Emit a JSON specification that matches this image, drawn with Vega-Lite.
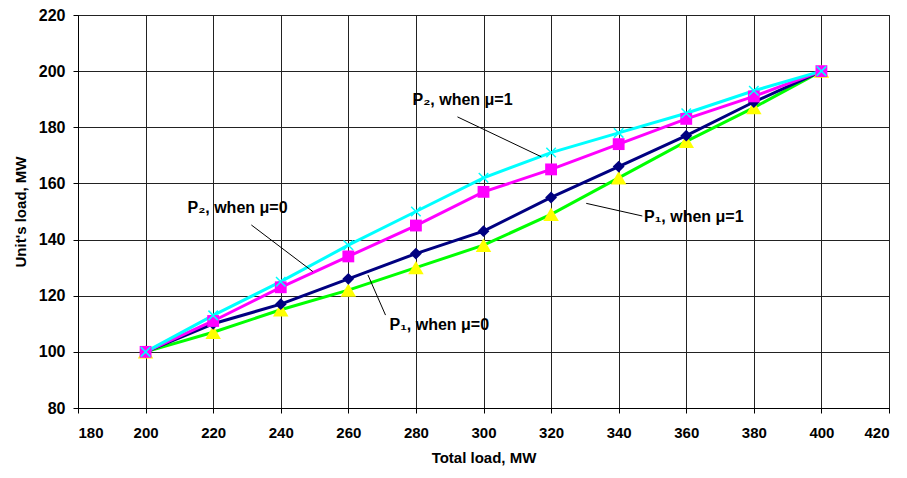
{
  "$schema": "https://vega.github.io/schema/vega-lite/v6.json",
  "width": 811,
  "height": 393,
  "autosize": {"type": "none"},
  "padding": {"left": 78, "top": 15, "right": 18, "bottom": 70},
  "background": "white",
  "config": {
    "font": "Liberation Sans",
    "view": {"stroke": "#222", "strokeWidth": 1},
    "axis": {
      "grid": true,
      "gridColor": "#222",
      "gridWidth": 1,
      "gridOpacity": 1,
      "domainColor": "#000",
      "domainWidth": 1,
      "tickColor": "#000",
      "tickSize": 5,
      "labelFont": "Liberation Sans",
      "labelFontWeight": "bold",
      "labelFontSize": 15,
      "labelColor": "#000",
      "titleFont": "Liberation Sans",
      "titleFontWeight": "bold",
      "titleFontSize": 15,
      "titleColor": "#000"
    }
  },
  "datasets": {
    "series": [
      {"s": "P1mu1", "x": 200, "y": 100}, {"s": "P1mu1", "x": 220, "y": 107}, {"s": "P1mu1", "x": 240, "y": 115}, {"s": "P1mu1", "x": 260, "y": 122}, {"s": "P1mu1", "x": 280, "y": 130}, {"s": "P1mu1", "x": 300, "y": 138}, {"s": "P1mu1", "x": 320, "y": 149}, {"s": "P1mu1", "x": 340, "y": 162}, {"s": "P1mu1", "x": 360, "y": 175}, {"s": "P1mu1", "x": 380, "y": 187}, {"s": "P1mu1", "x": 400, "y": 200},
      {"s": "P1mu0", "x": 200, "y": 100}, {"s": "P1mu0", "x": 220, "y": 110}, {"s": "P1mu0", "x": 240, "y": 117}, {"s": "P1mu0", "x": 260, "y": 126}, {"s": "P1mu0", "x": 280, "y": 135}, {"s": "P1mu0", "x": 300, "y": 143}, {"s": "P1mu0", "x": 320, "y": 155}, {"s": "P1mu0", "x": 340, "y": 166}, {"s": "P1mu0", "x": 360, "y": 177}, {"s": "P1mu0", "x": 380, "y": 189}, {"s": "P1mu0", "x": 400, "y": 200},
      {"s": "P2mu0", "x": 200, "y": 100}, {"s": "P2mu0", "x": 220, "y": 111}, {"s": "P2mu0", "x": 240, "y": 123}, {"s": "P2mu0", "x": 260, "y": 134}, {"s": "P2mu0", "x": 280, "y": 145}, {"s": "P2mu0", "x": 300, "y": 157}, {"s": "P2mu0", "x": 320, "y": 165}, {"s": "P2mu0", "x": 340, "y": 174}, {"s": "P2mu0", "x": 360, "y": 183}, {"s": "P2mu0", "x": 380, "y": 191}, {"s": "P2mu0", "x": 400, "y": 200},
      {"s": "P2mu1", "x": 200, "y": 100}, {"s": "P2mu1", "x": 220, "y": 113}, {"s": "P2mu1", "x": 240, "y": 125}, {"s": "P2mu1", "x": 260, "y": 138}, {"s": "P2mu1", "x": 280, "y": 150}, {"s": "P2mu1", "x": 300, "y": 162}, {"s": "P2mu1", "x": 320, "y": 171}, {"s": "P2mu1", "x": 340, "y": 178}, {"s": "P2mu1", "x": 360, "y": 185}, {"s": "P2mu1", "x": 380, "y": 193}, {"s": "P2mu1", "x": 400, "y": 200}
    ],
    "leaders": [
      {"x": 292.3, "y": 183.7, "x2": 317.1, "y2": 169.5},
      {"x": 231.3, "y": 145.2, "x2": 249.5, "y2": 128.6},
      {"x": 265.8, "y": 127.4, "x2": 271.0, "y2": 113.1},
      {"x": 330.4, "y": 152.9, "x2": 347.0, "y2": 148.4}
    ],
    "labels": [
      {"x": 279, "y": 189.7, "t": "P₂, when μ=1"},
      {"x": 212.4, "y": 151.2, "t": "P₂, when μ=0"},
      {"x": 272.2, "y": 109.6, "t": "P₁, when μ=0"},
      {"x": 347.5, "y": 148.2, "t": "P₁, when μ=1"}
    ]
  },
  "layer": [
    {
      "data": {"name": "series"},
      "mark": {"type": "line", "strokeWidth": 3},
      "encoding": {
        "x": {"field": "x", "type": "quantitative", "scale": {"domain": [180, 420], "nice": false}, "axis": {"values": [180, 200, 220, 240, 260, 280, 300, 320, 340, 360, 380, 400, 420], "title": "Total load, MW", "labelPadding": 12, "titlePadding": 10}},
        "y": {"field": "y", "type": "quantitative", "scale": {"domain": [80, 220], "nice": false}, "axis": {"values": [80, 100, 120, 140, 160, 180, 200, 220], "title": "Unit's load, MW", "labelPadding": 8, "labelFontSize": 16, "titlePadding": 10}},
        "color": {"field": "s", "type": "nominal", "scale": {"domain": ["P1mu1", "P1mu0", "P2mu0", "P2mu1"], "range": ["#00FF00", "#000080", "#FF00FF", "#00FFFF"]}, "legend": null},
        "order": {"field": "x"}
      }
    },
    {
      "data": {"name": "series"},
      "transform": [{"filter": "datum.s === 'P1mu1'"}],
      "mark": {"type": "point", "filled": true, "opacity": 1, "shape": "triangle-up", "size": 240, "color": "#FFFF00"},
      "encoding": {
        "x": {"field": "x", "type": "quantitative"},
        "y": {"field": "y", "type": "quantitative"}
      }
    },
    {
      "data": {"name": "series"},
      "transform": [{"filter": "datum.s === 'P1mu0'"}],
      "mark": {"type": "point", "filled": true, "opacity": 1, "shape": "diamond", "size": 140, "color": "#000080"},
      "encoding": {
        "x": {"field": "x", "type": "quantitative"},
        "y": {"field": "y", "type": "quantitative"}
      }
    },
    {
      "data": {"name": "series"},
      "transform": [{"filter": "datum.s === 'P2mu0'"}],
      "mark": {"type": "point", "filled": true, "opacity": 1, "shape": "square", "size": 140, "color": "#FF00FF"},
      "encoding": {
        "x": {"field": "x", "type": "quantitative"},
        "y": {"field": "y", "type": "quantitative"}
      }
    },
    {
      "data": {"name": "series"},
      "transform": [{"filter": "datum.s === 'P2mu1'"}],
      "mark": {"type": "point", "filled": false, "shape": "M-1,-1L1,1M-1,1L1,-1", "size": 90, "stroke": "#00FFFF", "strokeWidth": 1.5, "opacity": 1},
      "encoding": {
        "x": {"field": "x", "type": "quantitative"},
        "y": {"field": "y", "type": "quantitative"}
      }
    },
    {
      "data": {"name": "leaders"},
      "mark": {"type": "rule", "color": "#000", "strokeWidth": 1},
      "encoding": {
        "x": {"field": "x", "type": "quantitative"},
        "y": {"field": "y", "type": "quantitative"},
        "x2": {"field": "x2"},
        "y2": {"field": "y2"}
      }
    },
    {
      "data": {"name": "labels"},
      "mark": {"type": "text", "align": "left", "baseline": "middle", "font": "Liberation Sans", "fontWeight": "bold", "fontSize": 16, "color": "#000"},
      "encoding": {
        "x": {"field": "x", "type": "quantitative"},
        "y": {"field": "y", "type": "quantitative"},
        "text": {"field": "t"}
      }
    }
  ]
}
